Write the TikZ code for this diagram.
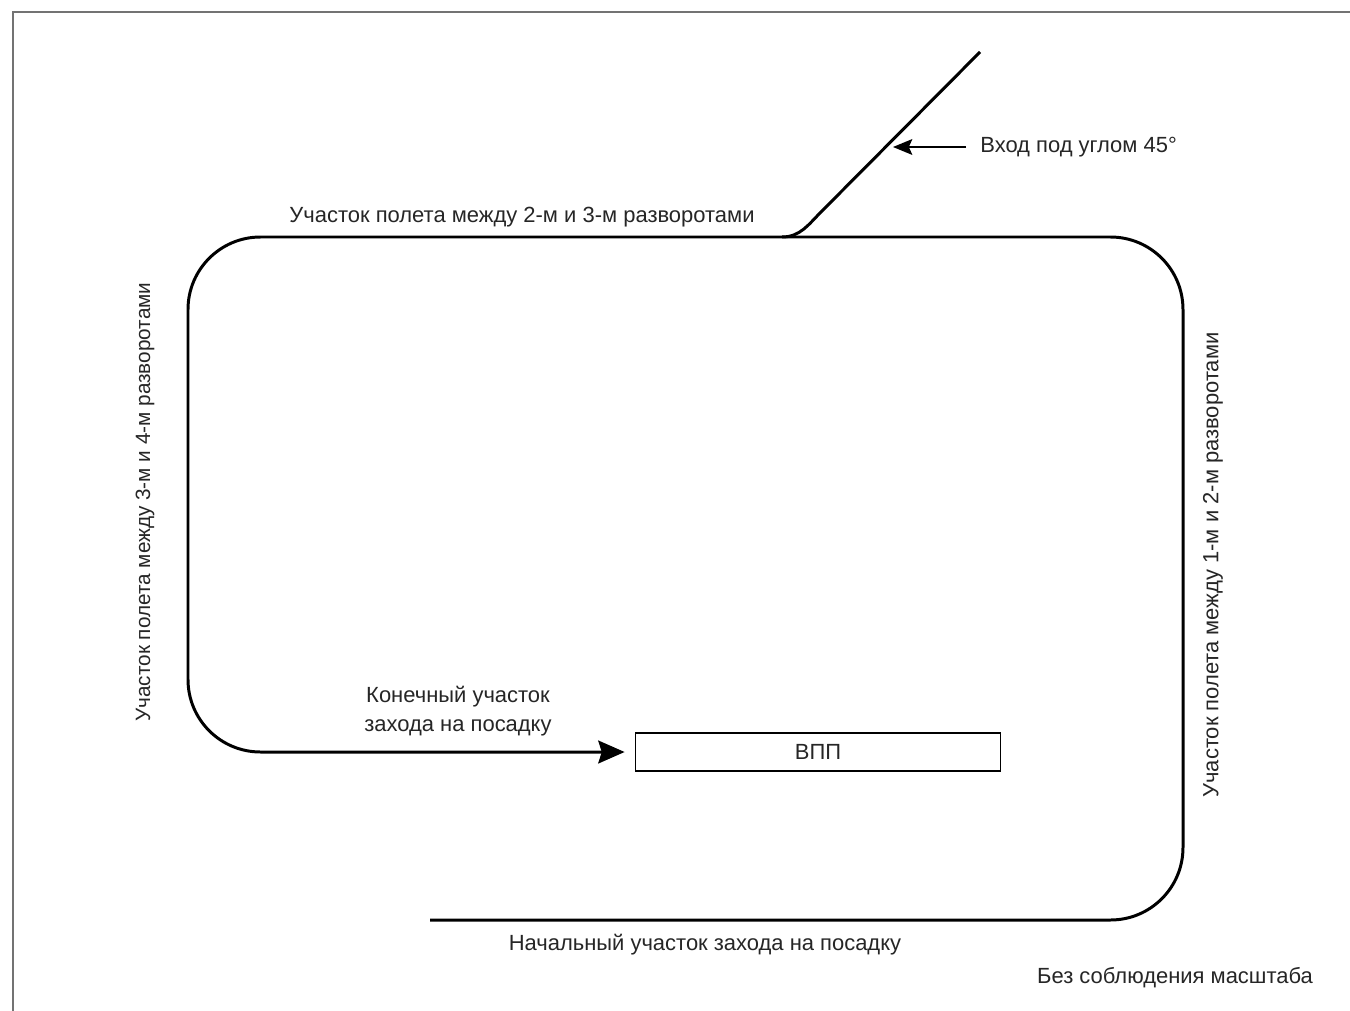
\documentclass[tikz,border=0pt]{standalone}
\usepackage{fontspec}
\setmainfont{Liberation Sans}
\usetikzlibrary{arrows.meta}
\begin{document}
\begin{tikzpicture}[x=0.02cm,y=-0.02cm,
  route/.style={line width=1.7pt,line join=round},
  lbl/.style={inner sep=0pt,font=\fontsize{12.5}{16}\selectfont,text=black!85},
  frame/.style={line width=1.1pt,draw=black!55}]
\useasboundingbox (0,0) rectangle (1350,1011);
\fill[white] (0,0) rectangle (1350,1011);
% frame
\draw[frame] (13,1011) -- (13,12) -- (1350,12);
% runway
\node[draw,line width=1pt,minimum width=365*0.02cm,minimum height=38*0.02cm,inner sep=0pt,font=\fontsize{12.5}{14}\selectfont,text=black!85] (rwy) at (818,752) {ВПП};
% circuit
\coordinate (start) at (430,920);
\coordinate (c1) at (1183,920);
\coordinate (c2) at (1183,237);
\coordinate (c3) at (188,237);
\coordinate (c4) at (188,752);
\draw[route,rounded corners=1.45cm,-{Stealth[length=15pt,width=13pt,inset=2pt]}]
  (start) -- (c1) -- (c2) -- (c3) -- (c4) -- ([xshift=-10*0.02cm]rwy.west);
% entry
\coordinate (entry) at (980,52);
\coordinate (bend) at (821,212);
\coordinate (join) at (782,237);
\draw[route] (entry) -- (bend) to[out=225,in=0] (join);
% labels
\node[lbl] (top) at (522,217) {Участок полета между 2-м и 3-м разворотами};
\node[lbl,anchor=west] (vhod) at (980,147) {Вход под углом 45°};
\coordinate (vtip) at (893,147);
\draw[line width=0.9pt,-{Stealth[length=11pt,width=9pt,inset=2pt]}] ([xshift=-14*0.02cm]vhod.west) -- (vtip);
\node[lbl,rotate=90,font=\fontsize{11.8}{15}\selectfont] (left) at (145,502) {Участок полета между 3-м и 4-м разворотами};
\node[lbl,rotate=90] (right) at (1213,565) {Участок полета между 1-м и 2-м разворотами};
\node[lbl,align=center,font=\fontsize{12.5}{16.5}\selectfont] (final) at (458,711) {Конечный участок\\захода на посадку};
\node[lbl] (init) at (705,945) {Начальный участок захода на посадку};
\node[lbl] (scale) at (1175,978) {Без соблюдения масштаба};
\end{tikzpicture}
\end{document}
